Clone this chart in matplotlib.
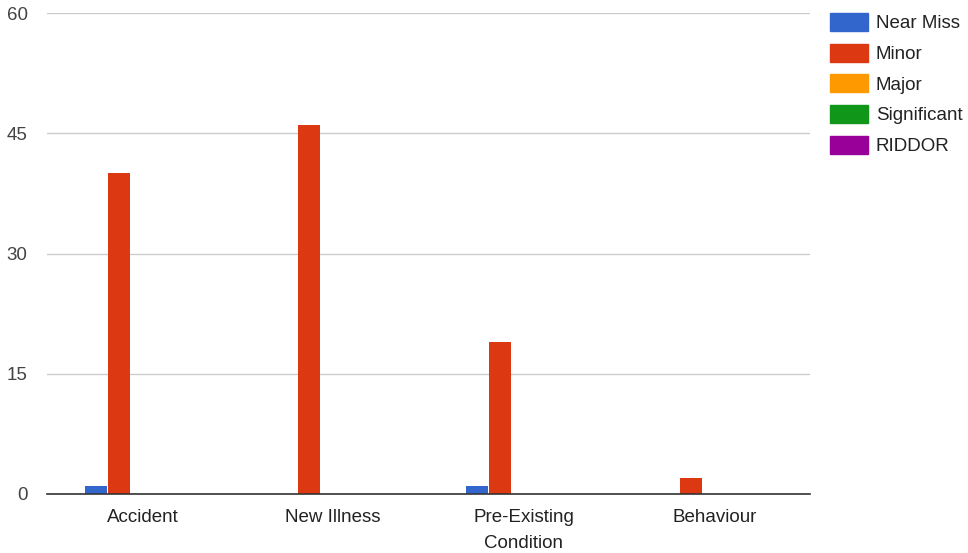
import matplotlib.pyplot as plt
import numpy as np

plt.rcParams['font.family'] = ['Liberation Sans', 'DejaVu Sans']

categories = ['Accident', 'New Illness', 'Pre-Existing\nCondition', 'Behaviour']
series = ['Near Miss', 'Minor', 'Major', 'Significant', 'RIDDOR']
values = {
    'Near Miss': [1, 0, 1, 0],
    'Minor': [40, 46, 19, 2],
    'Major': [0, 0, 0, 0],
    'Significant': [0, 0, 0, 0],
    'RIDDOR': [0, 0, 0, 0],
}
colors = ['#3366cc', '#dc3912', '#ff9900', '#109618', '#990099']
yticks = [0, 15, 30, 45, 60]

fig = plt.figure(figsize=(9.68, 5.53), dpi=100)
ax = fig.add_axes([47 / 968, 1 - 494 / 553, (810 - 47) / 968, (494 - 13) / 553])

x = np.arange(len(categories))
w = 0.6 / len(series)
for i, (name, c) in enumerate(zip(series, colors)):
    ax.bar(x - 0.3 + w * (i + 0.5) - 0.005, values[name], width=w * 0.96, color=c,
           label=name, zorder=3)

ax.set_xlim(-0.5, len(categories) - 0.5)
ax.set_ylim(0, 60)
ax.set_yticks(yticks)
ax.set_xticks(x)
ax.set_xticklabels(categories, fontsize=13.5, color='#222222', linespacing=1.7)
ax.tick_params(axis='y', length=0, pad=14, labelsize=13.5, labelcolor='#444444')
ax.tick_params(axis='x', length=0, pad=11)

ax.grid(axis='y', color='#cccccc', linewidth=1, zorder=0)
for s in ['top', 'right', 'left']:
    ax.spines[s].set_visible(False)
ax.spines['bottom'].set_color('#333333')
ax.spines['bottom'].set_linewidth(1.2)
ax.spines['bottom'].set_zorder(4)

# legend on the right, google-chart style
handles = [plt.Rectangle((0, 0), 1, 1, color=c) for c in colors]
fig.legend(handles, series, loc='upper left', bbox_to_anchor=(830 / 968, 1 - 13 / 553),
           frameon=False, fontsize=13.5, borderpad=0, borderaxespad=0,
           handlelength=2.0, handleheight=1.1, handletextpad=0.45,
           labelspacing=0.6, labelcolor='#222222')

fig.savefig('out.png', dpi=100)
